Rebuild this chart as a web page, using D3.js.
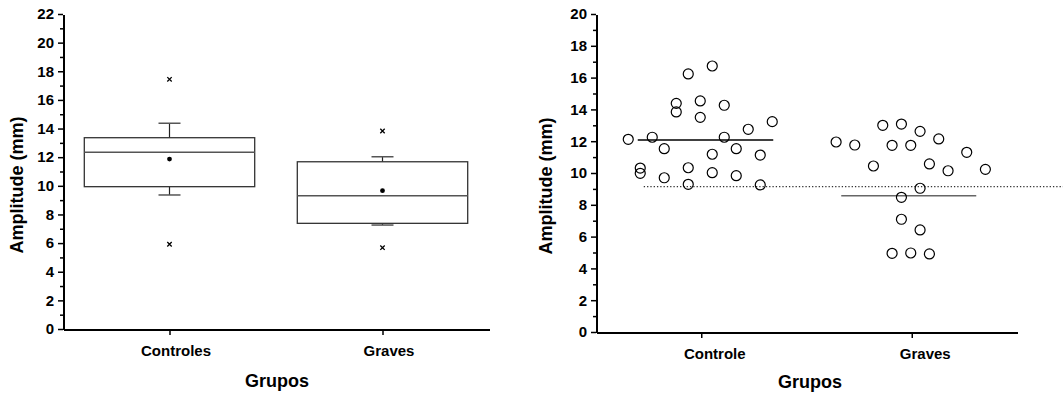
<!DOCTYPE html>
<html>
<head>
<meta charset="utf-8">
<script src="https://cdn.jsdelivr.net/npm/d3@7"></script>
<style>
body { margin: 0; background: #fff; }
svg text { font-family: "Liberation Sans", Arial, sans-serif; font-weight: bold; fill: #000; }
</style>
</head>
<body>
<script>
// left panel: box plot
var boxGroups = ["Controles", "Graves"];
var boxQ1 = [9.94, 7.38];
var boxMedian = [12.34, 9.31];
var boxQ3 = [13.36, 11.68];
var whiskerLow = [9.36, 7.26];
var whiskerHigh = [14.37, 12.03];
var boxMean = [11.87, 9.66];
var extremeLow = [5.92, 5.68];
var extremeHigh = [17.44, 13.83];
var leftTicks = [0, 2, 4, 6, 8, 10, 12, 14, 16, 18, 20, 22];

// right panel: individual values
var dotGroups = ["Controle", "Graves"];
var controleValues = [12.12, 10.31, 9.98, 12.25, 11.53, 9.70, 14.38, 13.84, 16.23, 10.33, 9.29, 14.53, 13.50,
                      16.73, 11.18, 10.02, 14.26, 12.25, 11.53, 9.83, 12.75, 11.13, 9.25, 13.23];
var controleCols   = [-6, -5, -5, -4, -3, -3, -2, -2, -1, -1, -1, 0, 0,
                      1, 1, 1, 2, 2, 3, 3, 4, 5, 5, 6];
var gravesValues = [11.95, 11.76, 10.44, 13.00, 11.74, 4.95, 13.08, 8.47, 7.09, 11.74, 4.97,
                    12.62, 9.04, 6.42, 10.57, 4.91, 12.14, 10.14, 11.30, 10.23];
var gravesCols   = [-8, -6, -4, -3, -2, -2, -1, -1, -1, 0, 0,
                    1, 1, 1, 2, 2, 3, 4, 6, 8];
var groupLine = [12.08, 8.57];
var refLine = 9.14;
var rightTicks = [0, 2, 4, 6, 8, 10, 12, 14, 16, 18, 20];

var W = 1063, H = 394;
var svg = d3.select("body").append("svg").attr("width", W).attr("height", H);

var drawAxes = function(g, x, y, ticks, labelDx) {
  var x0 = x.range()[0];
  var minor = d3.range(1, ticks[ticks.length - 1], 2);
  g.append("g").attr("transform", "translate(" + x0 + ",0)")
    .call(d3.axisLeft(y).tickValues(minor).tickSize(3).tickSizeOuter(0).tickFormat(""))
    .call(function(a) { a.select(".domain").remove(); a.selectAll("line").attr("stroke-width", 1.5); });
  var ya = g.append("g").attr("transform", "translate(" + x0 + ",0)")
    .call(d3.axisLeft(y).tickValues(ticks).tickSize(5).tickSizeOuter(0).tickPadding(4));
  ya.select(".domain").attr("stroke-width", 2).attr("shape-rendering", "crispEdges");
  ya.selectAll("line").attr("stroke-width", 1.5);
  ya.selectAll("text").style("font-size", "15px");

  var xa = g.append("g").attr("transform", "translate(0," + y.range()[0] + ")")
    .call(d3.axisBottom(x).tickSize(6).tickSizeOuter(0));
  xa.select(".domain").attr("stroke-width", 2).attr("shape-rendering", "crispEdges");
  xa.selectAll("line").attr("stroke-width", 1.5);
  xa.selectAll("text").style("font-size", "15px").attr("y", 27).attr("dy", 0).attr("dx", labelDx);
}

var drawTitles = function(g, cx, by, ty, tx) {
  g.append("text").attr("x", cx).attr("y", by).attr("text-anchor", "middle")
    .style("font-size", "18px").text("Grupos");
  g.append("text").attr("transform", "translate(" + tx + "," + ty + ") rotate(-90)")
    .attr("text-anchor", "middle").style("font-size", "18px").text("Amplitude (mm)");
}

// ---------- left ----------
var xL = d3.scalePoint().domain(boxGroups).range([63, 489]).padding(0.5);
var yL = d3.scaleLinear().domain([0, 22]).range([329, 14]);
var gL = svg.append("g");
var boxW = xL.step() * 0.8, capW = 22;

boxGroups.forEach(function(name, i) {
  var cx = xL(name);
  // whiskers
  gL.append("line").attr("x1", cx).attr("x2", cx).attr("y1", yL(boxQ3[i])).attr("y2", yL(whiskerHigh[i]))
    .attr("stroke", "#222").attr("stroke-width", 1.2);
  gL.append("line").attr("x1", cx).attr("x2", cx).attr("y1", yL(boxQ1[i])).attr("y2", yL(whiskerLow[i]))
    .attr("stroke", "#222").attr("stroke-width", 1.2);
  [whiskerHigh[i], whiskerLow[i]].forEach(function(v) {
    gL.append("line").attr("x1", cx - capW / 2).attr("x2", cx + capW / 2).attr("y1", yL(v)).attr("y2", yL(v))
      .attr("stroke", "#555").attr("stroke-width", 1.5);
  });
  gL.append("rect").attr("x", cx - boxW / 2).attr("width", boxW)
    .attr("y", yL(boxQ3[i])).attr("height", yL(boxQ1[i]) - yL(boxQ3[i]))
    .attr("fill", "none").attr("stroke", "#333").attr("stroke-width", 1.3);
  gL.append("line").attr("x1", cx - boxW / 2).attr("x2", cx + boxW / 2)
    .attr("y1", yL(boxMedian[i])).attr("y2", yL(boxMedian[i]))
    .attr("stroke", "#555").attr("stroke-width", 1.5);
  gL.append("circle").attr("cx", cx).attr("cy", yL(boxMean[i])).attr("r", 2.4).attr("fill", "#000");
  [extremeHigh[i], extremeLow[i]].forEach(function(v) {
    var s = 2.2;
    gL.append("path").attr("d", "M" + (cx - s) + "," + (yL(v) - s) + "L" + (cx + s) + "," + (yL(v) + s) +
      "M" + (cx - s) + "," + (yL(v) + s) + "L" + (cx + s) + "," + (yL(v) - s))
      .attr("stroke", "#000").attr("stroke-width", 1.3);
  });
});
drawAxes(gL, xL, yL, leftTicks, 6);
drawTitles(gL, 277, 387, 185, 23);

// ---------- right ----------
var xR = d3.scalePoint().domain(dotGroups).range([596, 1017]).padding(0.5);
var yR = d3.scaleLinear().domain([0, 20]).range([332, 14]);
var gR = svg.append("g");
var colStep = [12, 9.33];

// reference line (dotted), runs past the plot on the right
gR.append("line").attr("x1", xR("Controle") - 57.5).attr("x2", W)
  .attr("y1", yR(refLine)).attr("y2", yR(refLine))
  .attr("stroke", "#333").attr("stroke-width", 1.3).attr("stroke-dasharray", "1.3,2");

var lineSpan = [[-63.5, 72], [-70.5, 64.5]];
var lineColor = ["#000", "#666"];
dotGroups.forEach(function(name, i) {
  gR.append("line").attr("x1", xR(name) + lineSpan[i][0]).attr("x2", xR(name) + lineSpan[i][1])
    .attr("y1", yR(groupLine[i])).attr("y2", yR(groupLine[i]))
    .attr("stroke", lineColor[i]).attr("stroke-width", 1.5);
});

var dots = [];
controleValues.forEach(function(v, k) { dots.push({g: 0, v: v, c: controleCols[k]}); });
gravesValues.forEach(function(v, k) { dots.push({g: 1, v: v, c: gravesCols[k]}); });

gR.selectAll("circle.pt").data(dots).enter().append("circle").attr("class", "pt")
  .attr("cx", function(d) { return xR(dotGroups[d.g]) - 1 + d.c * colStep[d.g]; })
  .attr("cy", function(d) { return yR(d.v); })
  .attr("r", 5)
  .attr("fill", "none").attr("stroke", "#000").attr("stroke-width", 1.2);

drawAxes(gR, xR, yR, rightTicks, 13);
drawTitles(gR, 810, 388, 186, 552);
</script>
</body>
</html>
